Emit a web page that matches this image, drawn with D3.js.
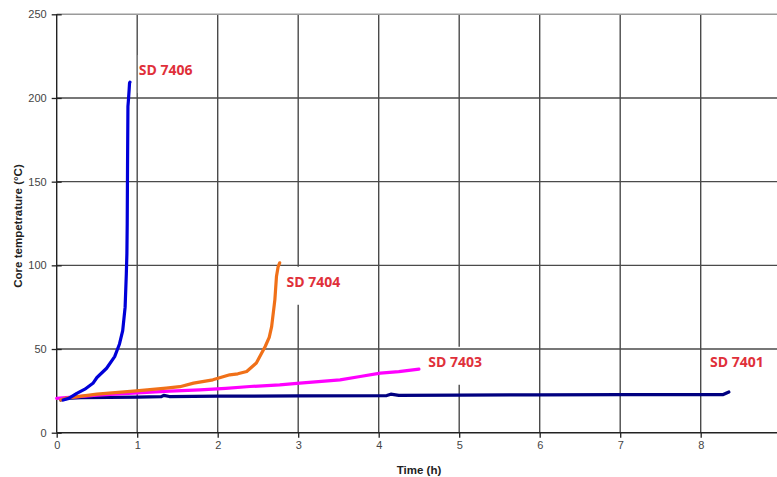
<!DOCTYPE html>
<html>
<head>
<meta charset="utf-8">
<script src="https://cdn.jsdelivr.net/npm/d3@7"></script>
<style>
  body { margin: 0; background: #fff; }
  svg { display: block; }
</style>
</head>
<body>
<div id="chart"></div>
<script>
// time (h) and core temperature (°C) per sample
const timeSD7406 = [0.08, 0.15, 0.25, 0.35, 0.45, 0.5, 0.62, 0.72, 0.78, 0.82, 0.85, 0.865, 0.872, 0.876, 0.88, 0.885, 0.89, 0.9, 0.905, 0.91];
const tempSD7406 = [19.5, 20.5, 23.5, 26, 29.5, 33, 38.5, 45.5, 53, 61, 75, 95, 107, 125, 160, 195, 198, 205, 209, 209.5];

const timeSD7404 = [0.05, 0.12, 0.5, 0.99, 1.36, 1.53, 1.7, 1.94, 2.15, 2.25, 2.36, 2.48, 2.59, 2.64, 2.67, 2.71, 2.73, 2.75, 2.77];
const tempSD7404 = [19.5, 20.7, 23, 25, 26.6, 27.5, 29.6, 31.6, 34.6, 35.2, 36.6, 41.6, 51.5, 57, 63.4, 79.4, 93.3, 99, 101.5];

const timeSD7403 = [0, 0.5, 0.95, 1.4, 1.78, 2.1, 2.4, 2.77, 3.02, 3.52, 3.77, 4.02, 4.25, 4.5];
const tempSD7403 = [20.5, 22.5, 23.7, 24.8, 25.6, 26.5, 27.6, 28.6, 29.6, 31.6, 33.6, 35.6, 36.5, 38];

const timeSD7401 = [0.05, 0.12, 0.3, 1.0, 1.3, 1.33, 1.4, 2, 3, 4.1, 4.15, 4.25, 5, 6, 7, 8, 8.28, 8.35];
const tempSD7401 = [19.5, 20.5, 21, 21.3, 21.5, 22.3, 21.6, 21.8, 22, 22.2, 23, 22.3, 22.5, 22.6, 22.7, 22.7, 22.8, 24.3];

const seriesNames = ["SD 7401", "SD 7403", "SD 7404", "SD 7406"];
const seriesColors = ["#000080", "#ff00ff", "#f07018", "#0000d8"];

// label anchor in data units (time, temperature)
const labelTime = [8.115, 4.615, 2.855, 1.02];
const labelTemp = [39.2, 39.4, 87.2, 213.7];

// the 9 h tick falls just past the right edge of the picture
const xTicks = [0, 1, 2, 3, 4, 5, 6, 7, 8];
const yTicks = [0, 50, 100, 150, 200, 250];

const width = 777, height = 477;
const margin = { top: 14.3, left: 56.7, bottom: 44.3 };

const x = d3.scaleLinear().domain([0, 9]).range([margin.left, margin.left + 9 * 80.5]);
const y = d3.scaleLinear().domain([0, 250]).range([height - margin.bottom, margin.top]);

const svg = d3.select("#chart").append("svg")
  .attr("width", width)
  .attr("height", height);

const series = [
  { t: timeSD7401, v: tempSD7401 },
  { t: timeSD7403, v: tempSD7403 },
  { t: timeSD7404, v: tempSD7404 },
  { t: timeSD7406, v: tempSD7406 }
].map((s, i) => ({
  name: seriesNames[i],
  color: seriesColors[i],
  points: s.t.map((t, j) => ({ t: t, v: s.v[j] }))
}));

// vertical grid
svg.append("g")
  .selectAll("line")
  .data(xTicks.slice(1))
  .enter().append("line")
  .attr("x1", d => x(d)).attr("x2", d => x(d))
  .attr("y1", y(250)).attr("y2", y(0))
  .attr("stroke", "#4a4a4a")
  .attr("stroke-width", 1.4);

// label boxes (white backgrounds hide the grid behind the text)
const labelFont = "bold 14px 'Open Sans', sans-serif";
const measure = svg.append("text").style("font", labelFont).attr("visibility", "hidden");
const labelData = seriesNames.map((n, i) => {
  measure.text(n);
  return { name: n, t: labelTime[i], v: labelTemp[i], w: measure.node().getComputedTextLength() };
});
measure.remove();

svg.append("g")
  .selectAll("rect")
  .data(labelData)
  .enter().append("rect")
  .attr("x", d => x(d.t) - 1)
  .attr("y", d => y(d.v) - 20)
  .attr("width", d => d.w + 7)
  .attr("height", 38)
  .attr("fill", "#fff");

// horizontal grid
svg.append("g")
  .selectAll("line")
  .data(yTicks.slice(1))
  .enter().append("line")
  .attr("x1", x(0)).attr("x2", width)
  .attr("y1", d => y(d)).attr("y2", d => y(d))
  .attr("stroke", d => d === 250 ? "#9a9a9a" : "#4a4a4a")
  .attr("stroke-width", 1.4);

// axes
const xAxis = d3.axisBottom(x).tickValues(xTicks).tickSize(5).tickPadding(4);
const yAxis = d3.axisLeft(y).tickValues(yTicks).tickSize(5).tickPadding(5);

const gx = svg.append("g")
  .attr("transform", "translate(0," + y(0) + ")")
  .call(xAxis);
gx.select(".domain").remove();
gx.append("line")
  .attr("x1", x(0)).attr("x2", width)
  .attr("stroke", "#222").attr("stroke-width", 1.4);

const gy = svg.append("g")
  .attr("transform", "translate(" + x(0) + ",0)")
  .call(yAxis);
gy.select(".domain").remove();
gy.append("line")
  .attr("y1", y(250)).attr("y2", y(0))
  .attr("stroke", "#222").attr("stroke-width", 1.4);
gy.selectAll(".tick line").attr("x1", 5);

[gx, gy].forEach(g => {
  g.selectAll(".tick line").attr("stroke", "#222").attr("stroke-width", 1.3);
  g.selectAll(".tick text")
    .style("font", "11px 'Liberation Sans', Arial, sans-serif")
    .attr("fill", "#444");
});

svg.append("text")
  .attr("x", 419)
  .attr("y", 474)
  .style("text-anchor", "middle")
  .style("font", "bold 11.5px 'Liberation Sans', Arial, sans-serif")
  .attr("fill", "#222")
  .text("Time (h)");

svg.append("text")
  .attr("transform", "translate(22,226) rotate(-90)")
  .style("text-anchor", "middle")
  .style("font", "bold 11.5px 'Liberation Sans', Arial, sans-serif")
  .attr("fill", "#222")
  .text("Core tempetrature (°C)");

// data lines
const line = d3.line()
  .x(d => x(d.t))
  .y(d => y(d.v));

svg.append("g")
  .selectAll("path")
  .data(series)
  .enter().append("path")
  .attr("d", d => line(d.points))
  .attr("fill", "none")
  .attr("stroke", d => d.color)
  .attr("stroke-width", 3.2)
  .attr("stroke-linejoin", "round")
  .attr("stroke-linecap", "round");

// series labels
svg.append("g")
  .selectAll("text")
  .data(labelData)
  .enter().append("text")
  .attr("x", d => x(d.t))
  .attr("y", d => y(d.v))
  .style("font", labelFont)
  .attr("fill", "#e0303a")
  .text(d => d.name);
</script>
</body>
</html>
